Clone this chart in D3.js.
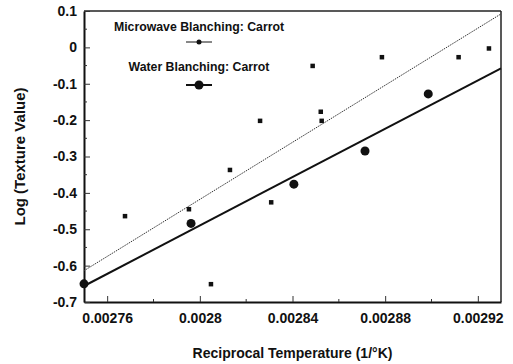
<!DOCTYPE html>
<html>
<head>
<meta charset="utf-8">
<script src="https://cdn.jsdelivr.net/npm/d3@7"></script>
<style>
  html, body { margin: 0; padding: 0; background: #fff; }
  svg text { font-family: "Liberation Sans", Arial, Helvetica, sans-serif; font-weight: bold; fill: #111; }
</style>
</head>
<body>
<svg id="chart" width="513" height="364"></svg>
<script>
// Microwave blanching of carrot: reciprocal temperature vs log texture value
const microwaveX = [0.0027677, 0.0027953, 0.0028048, 0.002813, 0.002826, 0.0028308, 0.0028487, 0.0028522, 0.0028526, 0.0028786, 0.0029117, 0.0029248];
const microwaveY = [-0.464, -0.445, -0.651, -0.337, -0.202, -0.426, -0.051, -0.177, -0.202, -0.027, -0.027, -0.003];

// Water blanching of carrot
const waterX = [0.00275, 0.0027962, 0.0028406, 0.0028713, 0.0028986];
const waterY = [-0.650, -0.484, -0.376, -0.285, -0.128];

// Fitted regression lines (end points over the plotted temperature range)
const microwaveFitX = [0.00275, 0.00293];
const microwaveFitY = [-0.614, 0.092];
const waterFitX = [0.00275, 0.00293];
const waterFitY = [-0.656, -0.0575];

// Axis ticks
const xTicks = [0.00276, 0.0028, 0.00284, 0.00288, 0.00292];
const xMinorTicks = [0.00278, 0.00282, 0.00286, 0.0029];
const yTicks = [0.1, 0, -0.1, -0.2, -0.3, -0.4, -0.5, -0.6, -0.7];
const yMinorTicks = [0.05, -0.05, -0.15, -0.25, -0.35, -0.45, -0.55, -0.65];

const legendLabels = ["Microwave Blanching: Carrot", "Water Blanching: Carrot"];
const xTitle = "Reciprocal Temperature (1/°K)";
const yTitle = "Log (Texture Value)";

const svg = d3.select("#chart");
const margin = { left: 84, right: 12, top: 11, bottom: 62 };
const W = 513, H = 364;

const x = d3.scaleLinear().domain([0.00275, 0.00293]).range([margin.left, W - margin.right]);
const y = d3.scaleLinear().domain([-0.7, 0.1]).range([H - margin.bottom, margin.top]);

// Frame: top and right borders
svg.append("line").attr("x1", x.range()[0]).attr("x2", x.range()[1])
  .attr("y1", y.range()[1]).attr("y2", y.range()[1])
  .attr("stroke", "#222").attr("stroke-width", 1.5);
svg.append("line").attr("x1", x.range()[1]).attr("x2", x.range()[1])
  .attr("y1", y.range()[1]).attr("y2", y.range()[0])
  .attr("stroke", "#222").attr("stroke-width", 1.5);

// X axis with inward ticks
const xAxis = svg.append("g").attr("transform", `translate(0,${y.range()[0]})`)
  .call(d3.axisBottom(x).tickValues(xTicks).tickSizeInner(-6).tickSizeOuter(0)
    .tickFormat(d => d3.format(".5f")(d).replace(/0+$/, "")));
xAxis.select(".domain").attr("stroke", "#111").attr("stroke-width", 2);
xAxis.selectAll(".tick line").attr("stroke", "#333").attr("stroke-width", 1);
xAxis.selectAll(".tick text").attr("y", 11).attr("font-size", 14).attr("fill", "#111");
xAxis.append("g").selectAll("line").data(xMinorTicks).join("line")
  .attr("x1", d => x(d)).attr("x2", d => x(d)).attr("y1", 0).attr("y2", -3)
  .attr("stroke", "#333").attr("stroke-width", 1);

// Y axis with inward ticks
const yAxis = svg.append("g").attr("transform", `translate(${x.range()[0]},0)`)
  .call(d3.axisLeft(y).tickValues(yTicks).tickSizeInner(-6).tickSizeOuter(0)
    .tickFormat(d => d === 0 ? "0" : d3.format(".1f")(d).replace("−", "-")));
yAxis.select(".domain").attr("stroke", "#111").attr("stroke-width", 2);
yAxis.selectAll(".tick line").attr("stroke", "#333").attr("stroke-width", 1);
yAxis.selectAll(".tick text").attr("x", -7).attr("font-size", 14).attr("fill", "#111");
yAxis.append("g").selectAll("line").data(yMinorTicks).join("line")
  .attr("y1", d => y(d)).attr("y2", d => y(d)).attr("x1", 0).attr("x2", 3)
  .attr("stroke", "#333").attr("stroke-width", 1);

// Axis titles
svg.append("text").attr("x", (x.range()[0] + x.range()[1]) / 2).attr("y", 358)
  .attr("text-anchor", "middle").attr("font-size", 14).text(xTitle);
svg.append("text").attr("transform", `translate(25,${(y.range()[0] + y.range()[1]) / 2}) rotate(-90)`)
  .attr("text-anchor", "middle").attr("font-size", 15).text(yTitle);

// Fit lines
const line = d3.line().x(d => x(d[0])).y(d => y(d[1]));
svg.append("path").datum(d3.zip(microwaveFitX, microwaveFitY)).attr("d", line)
  .attr("fill", "none").attr("stroke", "#333").attr("stroke-width", 1).attr("stroke-dasharray", "1.5,1");
svg.append("path").datum(d3.zip(waterFitX, waterFitY)).attr("d", line)
  .attr("fill", "none").attr("stroke", "#111").attr("stroke-width", 2);

// Microwave points: small squares
svg.append("g").selectAll("rect").data(d3.zip(microwaveX, microwaveY)).join("rect")
  .attr("x", d => x(d[0]) - 2.25).attr("y", d => y(d[1]) - 2.25)
  .attr("width", 4.5).attr("height", 4.5).attr("fill", "#111");

// Water points: large circles
svg.append("g").selectAll("circle").data(d3.zip(waterX, waterY)).join("circle")
  .attr("cx", d => x(d[0])).attr("cy", d => y(d[1])).attr("r", 4.5).attr("fill", "#111");

// Legend
const legend = svg.append("g");
const legendCx = 199;
[{ label: legendLabels[0], ty: 30.5, sy: 42, r: 2.5, w: 1 },
 { label: legendLabels[1], ty: 71, sy: 85, r: 4.5, w: 2 }].forEach(item => {
  legend.append("text").attr("x", legendCx).attr("y", item.ty).attr("text-anchor", "middle")
    .attr("font-size", 12.3).text(item.label);
  legend.append("line").attr("x1", legendCx - 13).attr("x2", legendCx + 13)
    .attr("y1", item.sy).attr("y2", item.sy).attr("stroke", "#111").attr("stroke-width", item.w);
  legend.append("circle").attr("cx", legendCx).attr("cy", item.sy).attr("r", item.r).attr("fill", "#111");
});
</script>
</body>
</html>
